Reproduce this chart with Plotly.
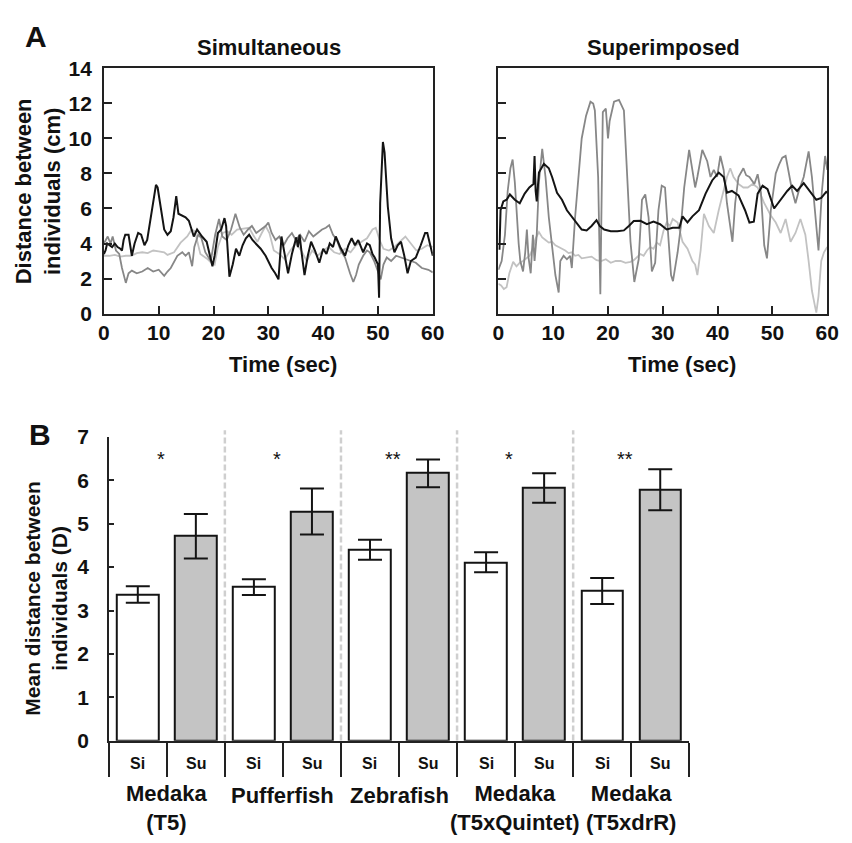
import plotly.graph_objects as go

# ---------------- Panel A data ----------------
sim_black_t = [0, 0.3, 0.6, 1, 1.5, 2, 2.5, 3, 3.3, 3.6, 3.9, 4.5, 5.1, 5.6, 6.25, 6.8, 7.4, 7.9, 8.3, 8.9,
               9.5, 9.8, 10.4, 11.0, 11.6, 12.2, 12.7, 13.2, 13.6, 14.3, 14.9, 15.5, 16.4, 17, 17.9, 18.75,
               19.3, 19.8, 20.2, 20.8, 21.4, 22, 22.3, 22.6, 22.9, 23.5, 24.1, 24.7, 25.3, 25.9, 26.5, 27.1,
               27.7, 28.6, 29.5, 30.1, 30.6, 31.25, 31.85, 32.4, 33.0, 33.6, 34.3, 35.1, 35.4, 35.7, 36.1,
               36.6, 37.2, 37.8, 38.5, 39.3, 40.0, 40.6, 41.2, 41.8, 42.3, 43.1, 44.0, 44.6, 45.2, 45.8, 46.4,
               47.3, 48.0, 48.5, 49.0, 49.4, 50.0, 50.2, 50.4, 50.7, 50.9, 51.2, 51.5, 51.8, 52.4, 53.0, 53.6,
               54.2, 54.8, 55.4, 56.0, 56.9, 57.8, 58.6, 59.0, 59.5, 60]
sim_black_v = [3.4, 3.6, 4.0, 3.9, 3.8, 4.0, 3.8, 3.7, 3.6, 4.2, 4.5, 4.5, 3.3, 4.0, 4.6, 4.5, 3.9, 4.2, 5.0, 6.2,
               7.35, 7.2, 6.1, 4.8, 4.5, 4.7, 5.5, 6.7, 5.7, 5.6, 5.5, 5.3, 4.4, 4.8, 4.4, 4.1,
               3.4, 2.7, 3.3, 4.6, 4.8, 5.45, 5.0, 3.4, 2.1, 2.8, 3.7, 3.3, 3.9, 4.3, 4.5, 4.2,
               4.0, 3.7, 3.3, 2.9, 2.6, 2.3, 1.95, 4.4, 3.3, 2.3, 3.4, 4.35, 3.8, 4.5, 3.4,
               2.2, 3.3, 4.1, 3.6, 2.9, 3.7, 3.4, 4.0, 3.8, 4.4, 3.8, 3.3, 3.9, 4.3, 3.9, 4.2,
               3.5, 4.0, 3.9, 3.4, 3.2, 2.8, 0.9, 6.3, 8.5, 9.8, 9.2, 7.5, 6.1, 4.3, 3.5, 3.9,
               4.1, 3.3, 2.3, 3.0, 3.2, 3.9, 4.6, 4.6, 3.9, 3.3]

sim_gray_t = [0, 0.7, 1.2, 1.6, 2.2, 2.8, 3.3, 4.0, 4.5, 5.1, 6.0, 7.0, 8.0, 9.0, 10.0, 11.0, 11.6, 12.2, 13.4,
              14.3, 14.9, 15.5, 16.1, 16.5, 17.2, 17.8, 18.5, 19.5, 20.3, 21.0, 21.6, 22.4, 23.2, 24.0, 24.8,
              25.5, 26.3, 27.0, 27.8, 28.6, 29.5, 30.0, 30.6, 31.3, 32.0, 32.8, 33.5, 34.3, 35.0, 35.8, 36.6,
              37.4, 38.2, 39.0, 39.8, 40.5, 41.1, 41.8, 42.5, 43.2, 44.0, 44.9, 45.5, 46.0, 46.5, 47.3, 48.0,
              48.5, 49.3, 50.0, 50.5, 51.0, 51.6, 52.4, 53.3, 54.2, 55.1, 56.0, 56.9, 58.0, 59.2, 60]
sim_gray_v = [4.0, 4.4, 4.0, 4.4, 3.6, 3.4, 2.6, 1.75, 2.3, 2.45, 2.3, 2.4, 2.6, 2.4, 2.5, 2.15, 2.4, 2.6, 3.3,
              3.5, 3.3, 3.5, 2.7, 3.8, 4.5, 4.3, 3.5, 3.0, 4.5, 5.4, 4.4, 4.2, 4.8, 5.7, 4.9,
              4.5, 4.8, 5.0, 4.6, 4.8, 5.0, 5.2, 4.6, 4.2, 4.4, 3.9, 4.3, 4.6, 4.2, 4.5, 4.1,
              4.7, 4.4, 4.6, 4.8, 4.9, 5.05, 4.5, 4.2, 3.6, 3.2, 2.3, 1.8, 2.2, 2.8, 3.3, 3.6,
              3.5, 3.0, 2.4, 1.95, 2.8, 3.2, 3.0, 3.3, 3.2, 3.1, 3.0, 2.9, 2.6, 2.5, 2.35]

sim_light_t = [0, 1, 2, 3, 4, 5, 6, 7, 8, 9, 10, 11, 11.6, 12.8, 14, 15.2, 16, 16.6, 17.6, 18.75, 19.6, 20.2,
               20.8, 21.7, 22.5, 23.3, 24.3, 25.3, 26.5, 27.2, 28.0, 28.8, 29.5, 30.2, 31.0, 32.0, 33.0, 34.0,
               35.0, 36.0, 37.0, 38.0, 39.0, 40.0, 41.0, 42.0, 43.0, 44.0, 45.0, 46.0, 47.0, 48.0, 49.0, 49.6,
               50.3, 51.0, 52.0, 53.0, 54.0, 55.0, 56.0, 57.0, 58.0, 59.0, 60]
sim_light_v = [3.3, 3.3, 3.35, 3.25, 3.3, 3.3, 3.45, 3.5, 3.45, 3.6, 3.55, 3.5, 3.35, 3.5, 4.05, 4.4, 4.8, 4.7, 3.4,
               3.15, 2.9, 2.8, 3.8, 4.6, 4.7, 4.5, 4.8, 4.85, 4.9, 4.5, 4.1, 4.6, 5.0, 4.6, 3.6, 3.4, 3.1, 3.6,
               4.0, 3.6, 3.0, 3.6, 3.3, 3.6, 3.8, 3.5, 3.4, 3.7, 3.5, 3.9, 4.1, 4.3, 4.8, 4.9,
               4.2, 3.7, 3.6, 3.8, 4.1, 4.4, 4.0, 3.6, 3.7, 3.9, 3.8]

sup_black_t = [0, 0.2, 0.4, 0.9, 1.5, 2.1, 3.0, 3.9, 4.8, 5.65, 6.4, 6.6, 6.8, 7.0, 7.4, 8.3, 9.2, 9.8, 10.7,
               11.6, 12.5, 13.4, 14.3, 15.2, 16.1, 17.0, 17.9, 18.5, 19.3, 20.5, 21.7, 22.9, 23.8, 24.7, 25.9,
               27.1, 28.3, 29.5, 30.7, 31.8, 33.0, 33.6, 34.5, 35.4, 36.6, 37.8, 39.0, 40.2, 41.1, 41.7, 42.6,
               43.8, 45.0, 45.8, 46.6, 47.3, 48.2, 49.1, 50.3, 51.5, 52.7, 53.6, 54.5, 55.7, 56.9, 58.0, 58.9,
               59.8, 60]
sup_black_v = [3.7, 3.7, 5.9, 6.4, 6.5, 6.8, 6.5, 6.3, 6.85, 7.2, 7.4, 9.0, 7.0, 6.4, 8.05, 8.55, 8.3, 7.8, 6.9,
               6.5, 5.9, 5.55, 5.2, 4.8, 4.75, 5.0, 5.33, 5.0, 4.8, 4.7, 4.7, 4.75, 5.0, 5.28, 5.3,
               5.1, 5.25, 5.1, 4.8, 4.9, 4.9, 5.55, 5.2, 5.55, 5.9, 6.85, 7.6, 8.05, 7.8, 6.9, 7.0,
               6.75, 5.9, 5.2, 5.25, 6.85, 7.3, 7.1, 6.0, 6.5, 7.0, 7.3, 7.0, 7.45, 6.95, 6.5, 6.6,
               6.95, 6.9]

sup_gray_t = [0, 0.6, 1.2, 1.7, 2.2, 2.6, 3.0, 3.3, 3.7, 4.0, 4.5, 4.9, 5.2, 5.5, 5.9, 6.3, 6.6, 7.0, 7.4, 8.0,
              8.6, 9.2, 9.8, 10.4, 11.0, 11.3, 11.9, 12.5, 13.1, 13.4, 14.0, 14.6, 15.2, 16.0, 16.8, 17.3, 17.6,
              18.2, 18.6, 19.05, 19.6, 20.0, 20.3, 21.1, 22.0, 22.9, 23.5, 24.1, 24.8, 25.6, 26.2, 26.8, 27.4,
              28.0, 28.6, 29.2, 29.8, 30.4, 31.0, 31.5, 31.85, 32.7, 33.3, 33.9, 34.8, 35.4, 35.9, 36.3, 37.2,
              38.1, 38.7, 39.3, 39.9, 40.5, 41.1, 41.7, 42.3, 42.7, 43.2, 43.8, 44.7, 45.2, 45.8, 46.7, 47.3,
              47.9, 48.5, 49.0, 49.7, 50.6, 51.2, 51.8, 52.4, 53.0, 53.6, 54.2, 54.8, 55.7, 56.6, 57.2, 57.8,
              58.4, 59.0, 59.6, 60]
sup_gray_v = [2.5, 3.0, 4.5, 7.0, 8.3, 8.8, 7.5, 5.9, 4.0, 3.0, 2.4, 3.5, 4.8, 3.2, 2.3, 4.5, 3.0, 4.5, 7.5, 9.4,
              7.8, 5.5, 3.9, 2.2, 1.2, 3.0, 3.3, 3.1, 3.3, 2.6, 5.5, 8.0, 10.0, 11.3, 12.1, 12.0, 11.6,
              7.8, 1.1, 11.5, 11.7, 10.0, 11.0, 12.1, 12.2, 11.6, 7.8, 4.1, 1.8, 3.1, 6.5, 6.8, 5.5,
              2.4, 2.9, 5.9, 7.3, 7.2, 4.4, 2.2, 1.85, 3.5, 5.0, 7.2, 9.35, 8.1, 7.2, 7.8, 9.35,
              8.7, 7.8, 8.2, 7.8, 9.0, 8.2, 6.3, 5.0, 4.1, 6.3, 7.8, 8.3, 7.9, 7.8, 7.4, 7.96,
              6.9, 3.9, 3.15, 5.9, 8.0, 8.5, 8.9, 9.0, 7.96, 7.0, 6.3, 7.0, 7.8, 9.26, 7.8, 5.55,
              3.6, 6.9, 9.0, 8.2]

sup_light_t = [0, 0.5, 1.0, 1.5, 2.0, 2.7, 3.3, 3.9, 4.5, 5.1, 5.7, 6.25, 6.8, 7.4, 8.0, 8.6, 9.2, 9.8, 10.4,
               11.0, 11.6, 12.2, 12.8, 13.4, 14.0, 14.6, 15.2, 16.0, 17.0, 17.9, 18.75, 19.6, 20.5, 21.4, 22.3,
               23.2, 24.1, 24.7, 25.3, 25.9, 26.5, 27.1, 27.7, 28.3, 28.9, 29.5, 30.1, 30.7, 31.3, 31.8, 32.7,
               33.6, 34.5, 35.4, 35.9, 36.3, 36.9, 37.5, 38.4, 39.3, 40.2, 41.1, 41.7, 42.3, 42.9, 43.8, 44.7,
               45.5, 46.4, 47.3, 48.5, 49.7, 50.6, 51.5, 52.4, 53.3, 54.2, 55.1, 56.0, 56.6, 57.2, 57.8, 58.0,
               58.4, 58.9, 59.4, 59.8, 60]
sup_light_v = [1.7, 1.6, 1.4, 1.5, 2.3, 2.95, 2.7, 2.9, 3.0, 3.15, 3.3, 3.7, 4.3, 4.65, 4.35, 4.2, 4.05, 4.1, 3.9,
               3.8, 3.7, 3.6, 3.45, 3.5, 3.3, 3.35, 3.15, 3.2, 3.25, 3.05, 3.0, 3.1, 2.9, 3.0, 3.0,
               2.9, 2.95, 3.05, 3.2, 3.4, 3.3, 3.6, 3.8, 3.7, 4.05, 3.9, 4.7, 5.2, 5.0, 5.4, 5.2,
               4.1, 3.7, 3.0, 2.8, 2.2, 3.6, 5.7, 5.0, 4.6, 5.9, 7.0, 7.8, 8.3, 7.8, 7.4, 7.2,
               7.2, 7.4, 7.2, 6.3, 5.6, 5.2, 4.6, 5.4, 4.1, 4.6, 5.4, 4.5, 3.0, 1.3, 0.35, 0.05,
               1.0, 3.0, 3.5, 3.7, 3.8]

time_ticks = [0, 10, 20, 30, 40, 50, 60]
dist_ticks = [0, 2, 4, 6, 8, 10, 12, 14]

# ---------------- Panel B data ----------------
groups = ["Medaka<br>(T5)", "Pufferfish", "Zebrafish", "Medaka<br>(T5xQuintet)", "Medaka<br>(T5xdrR)"]
conditions = ["Si", "Su"]
si_mean = [3.37, 3.54, 4.40, 4.11, 3.45]
si_err = [0.19, 0.18, 0.23, 0.23, 0.30]
su_mean = [4.71, 5.28, 6.16, 5.82, 5.78]
su_err = [0.51, 0.53, 0.32, 0.34, 0.47]
signif = ["*", "*", "**", "*", "**"]
mean_ticks = [0, 1, 2, 3, 4, 5, 6, 7]

FONT = "Liberation Sans, Arial, Helvetica, sans-serif"
W, H = 852, 843


def px(x):
    return x / W


def py(y):
    return 1 - y / H


fig = go.Figure()

BLACK = "#141414"
GRAY = "#878787"
LIGHT = "#c2c2c2"

# Panel A left
for t, v, c, w in [(sim_light_t, sim_light_v, LIGHT, 1.8), (sim_gray_t, sim_gray_v, GRAY, 1.8),
                   (sim_black_t, sim_black_v, BLACK, 2.0)]:
    fig.add_trace(go.Scatter(x=t, y=v, mode="lines", line=dict(color=c, width=w),
                             xaxis="x", yaxis="y", showlegend=False, hoverinfo="skip"))
# Panel A right
for t, v, c, w in [(sup_light_t, sup_light_v, LIGHT, 1.8), (sup_gray_t, sup_gray_v, GRAY, 1.8),
                   (sup_black_t, sup_black_v, BLACK, 2.0)]:
    fig.add_trace(go.Scatter(x=t, y=v, mode="lines", line=dict(color=c, width=w),
                             xaxis="x2", yaxis="y2", showlegend=False, hoverinfo="skip"))

# Panel B bars
n = len(groups)
si_x = [2 * i for i in range(n)]
su_x = [2 * i + 1 for i in range(n)]
fig.add_trace(go.Bar(x=si_x, y=si_mean, width=0.72, marker=dict(color="white", line=dict(color=BLACK, width=2)),
                     error_y=dict(type="data", array=si_err, visible=True, color=BLACK, thickness=2, width=12),
                     xaxis="x3", yaxis="y3", showlegend=False, hoverinfo="skip"))
fig.add_trace(go.Bar(x=su_x, y=su_mean, width=0.72, marker=dict(color="#c4c4c4", line=dict(color=BLACK, width=2)),
                     error_y=dict(type="data", array=su_err, visible=True, color=BLACK, thickness=2, width=12),
                     xaxis="x3", yaxis="y3", showlegend=False, hoverinfo="skip"))

tickfont = dict(family=FONT, size=21, color="#111", weight="bold")
axA = dict(range=[0, 60], tickvals=time_ticks, ticks="inside", ticklen=8, tickwidth=1.5, tickcolor="#222",
           showline=True, linecolor="#222", linewidth=1.5, mirror=True, showgrid=False, zeroline=False,
           tickfont=tickfont, ticklabelstandoff=0)
ayA = dict(range=[0, 14], tickvals=dist_ticks, ticks="inside", ticklen=8, tickwidth=1.5, tickcolor="#222",
           showline=True, linecolor="#222", linewidth=1.5, mirror=True, showgrid=False, zeroline=False,
           tickfont=tickfont, ticklabelstandoff=6)

boundaries = [i - 0.5 for i in range(2 * n + 1)]

fig.update_layout(
    width=W, height=H, margin=dict(l=0, r=0, t=0, b=0), paper_bgcolor="white", plot_bgcolor="white",
    bargap=0, barmode="overlay",
    xaxis=dict(axA, domain=[px(100), px(436)], anchor="y"),
    yaxis=dict(ayA, domain=[py(310), py(58)], anchor="x"),
    xaxis2=dict(axA, domain=[px(503), px(839)], anchor="y2"),
    yaxis2=dict(ayA, domain=[py(310), py(58)], anchor="x2", showticklabels=False),
    xaxis3=dict(domain=[px(105), px(698)], anchor="y3", range=[-0.5, 2 * n - 0.5], tickvals=boundaries,
                ticks="outside", ticklen=34, tickwidth=1.5, tickcolor="#222", showticklabels=False,
                showline=True, linecolor="#222", linewidth=2, showgrid=False, zeroline=False),
    yaxis3=dict(domain=[py(749.3), py(436.7)], anchor="x3", range=[0, 7], tickvals=mean_ticks,
                ticks="inside", ticklen=5, tickwidth=1.5, tickcolor="#222", showline=True, linecolor="#222",
                linewidth=1.5, showgrid=False, zeroline=False, tickfont=tickfont, ticklabelstandoff=14),
)

# dashed separators between groups
for i in range(1, n):
    xb = 2 * i - 0.5
    fig.add_shape(type="line", xref="x3", yref="paper", x0=xb, x1=xb, y0=py(749), y1=py(430),
                  line=dict(color="#cfcfcf", width=2.5, dash="6px,3px"), layer="below")

ann = []
bold = dict(family=FONT, color="#111", weight="bold")
# panel letters
ann.append(dict(text="A", x=px(31), y=py(25), font=dict(bold, size=30)))
ann.append(dict(text="B", x=px(35), y=py(434), font=dict(bold, size=30)))
# titles
ann.append(dict(text="Simultaneous", x=px(269), y=py(36), font=dict(bold, size=22)))
ann.append(dict(text="Superimposed", x=px(672), y=py(36), font=dict(bold, size=22)))
ann.append(dict(text="Time (sec)", x=px(283), y=py(362), font=dict(bold, size=22)))
ann.append(dict(text="Time (sec)", x=px(691), y=py(362), font=dict(bold, size=22)))
ann.append(dict(text="Distance between<br>individuals (cm)", x=px(33), y=py(184), textangle=-90,
                font=dict(bold, size=22)))
ann.append(dict(text="Mean distance between<br>individuals (D)", x=px(40), y=py(603), textangle=-90,
                font=dict(bold, size=21)))
# condition labels
for i in range(2 * n):
    ann.append(dict(text=conditions[i % 2], x=i, xref="x3", y=py(773), font=dict(bold, size=16)))
# group labels
for g in range(n):
    two_lines = "<br>" in groups[g]
    ann.append(dict(text=groups[g], x=2 * g + 0.5, xref="x3", y=py(818.5 if two_lines else 805),
                    font=dict(bold, size=22)))
# significance stars
for g in range(n):
    ann.append(dict(text=signif[g], x=2 * g + 0.4, xref="x3", y=6.5, yref="y3",
                    font=dict(family=FONT, size=20, color="#111")))

for a in ann:
    a.setdefault("xref", "paper")
    a.setdefault("yref", "paper")
    a["showarrow"] = False
    a.setdefault("yanchor", "middle")
    a.setdefault("xanchor", "center")
fig.update_layout(annotations=ann)

# remove the browser's default 8px body margin so the figure sits at the window origin
fig.write_html("out.html", config={"displayModeBar": False},
               post_script="document.body.style.margin='0px';")
